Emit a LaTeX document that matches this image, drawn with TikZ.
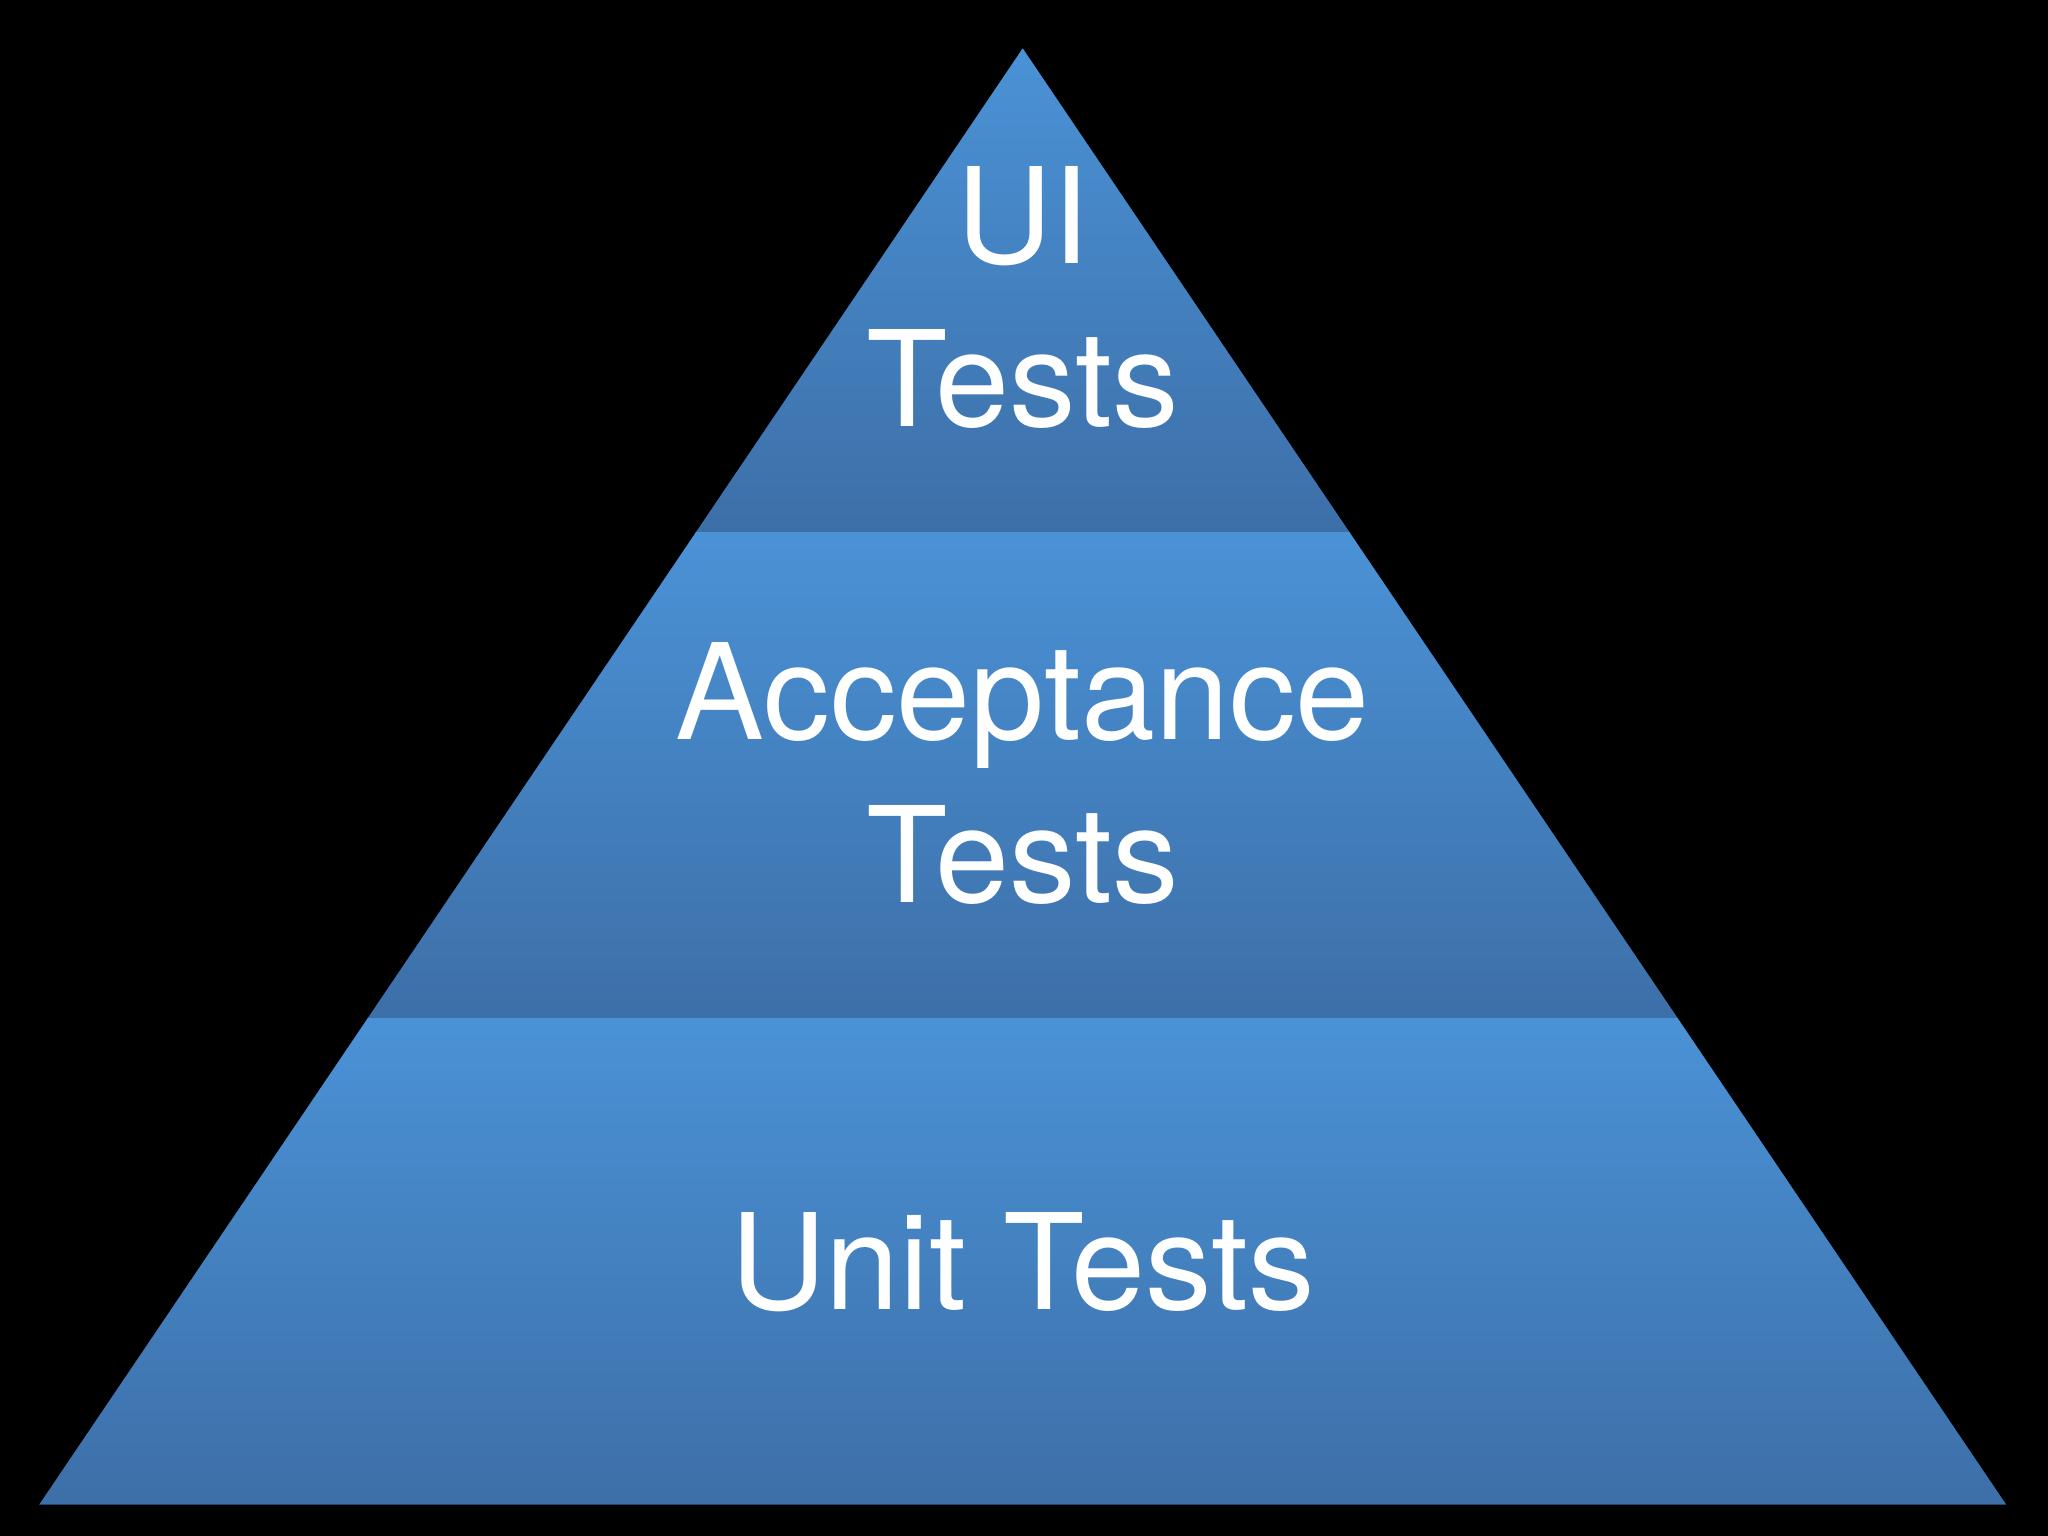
\documentclass[tikz,border=0pt]{standalone}
\usepackage{fontspec}
\setmainfont{TeX Gyre Heros}
\begin{document}
\begin{tikzpicture}[x=0.02cm,y=-0.02cm,
  lbl/.style={text=white,align=center,font=\fontsize{58}{71}\selectfont}]
\fill[black] (0,0) rectangle (1568,1176);
\useasboundingbox (0,0) rectangle (1568,1176);
\coordinate (A) at (783,37);
\coordinate (L) at (30,1152);
\coordinate (R) at (1536,1152);
\begin{scope}
\clip (A) -- (L) -- (R) -- cycle;
\shade[top color={rgb,255:red,74;green,146;blue,214},bottom color={rgb,255:red,61;green,111;blue,168}] (0,37) rectangle (1568,408);
\shade[top color={rgb,255:red,74;green,146;blue,214},bottom color={rgb,255:red,61;green,111;blue,168}] (0,408) rectangle (1568,780);
\shade[top color={rgb,255:red,74;green,146;blue,214},bottom color={rgb,255:red,61;green,111;blue,168}] (0,780) rectangle (1568,1152);
\end{scope}
\node[lbl] (ui) at (783,228) {UI\\Tests};
\node[lbl] (acc) at (783,592) {Acceptance\\Tests};
\node[lbl] (unit) at (783,966) {Unit Tests};
\end{tikzpicture}
\end{document}
